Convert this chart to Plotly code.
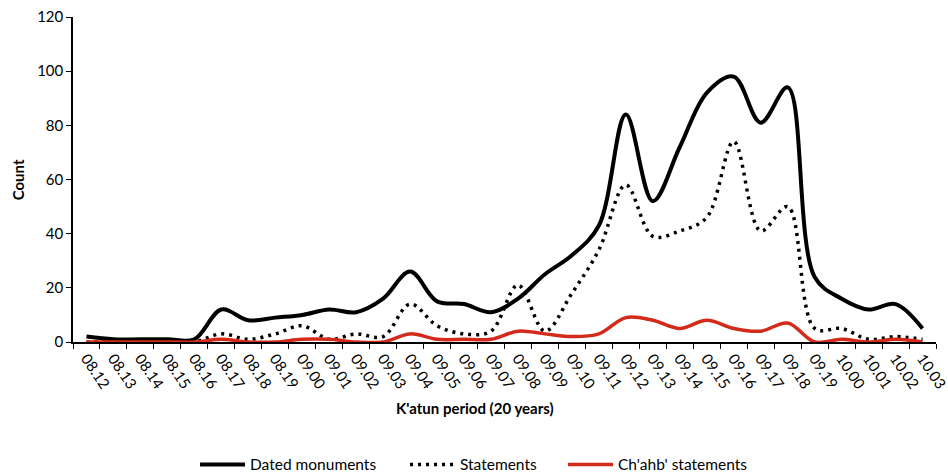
import plotly.graph_objects as go

periods = ["08.12", "08.13", "08.14", "08.15", "08.16", "08.17", "08.18", "08.19",
           "09.00", "09.01", "09.02", "09.03", "09.04", "09.05", "09.06", "09.07",
           "09.08", "09.09", "09.10", "09.11", "09.12", "09.13", "09.14", "09.15",
           "09.16", "09.17", "09.18", "09.19", "10.00", "10.01", "10.02", "10.03"]

dated_monuments = [2, 1, 1, 1, 1, 12, 8, 9, 10, 12, 11, 16, 26, 15, 14, 11,
                   16, 25, 32, 43, 84, 52, 72, 92, 98, 81, 94, 24, 16, 12, 14, 5]

statements = [0, 0, 0, 0, 0, 3, 1, 3, 6, 1, 3, 2, 14, 6, 3, 4,
              21, 4, 18, 34, 58, 39, 41, 46, 74, 41, 50, 5, 5, 1, 2, 1]

chahb_statements = [0, 0, 0, 0, 0, 1, 0, 0, 1, 1, 0, 0, 3, 1, 1, 1,
                    4, 3, 2, 3, 9, 8, 5, 8, 5, 4, 7, 0, 1, 0, 1, 0]

font_family = "Lato, 'Open Sans', sans-serif"

fig = go.Figure()
fig.add_trace(go.Scatter(x=periods, y=dated_monuments, name="Dated monuments", legend="legend",
                         mode="lines", line=dict(color="black", width=4, shape="spline", smoothing=1.0)))
fig.add_trace(go.Scatter(x=periods, y=statements, name="Statements", legend="legend2",
                         mode="lines", line=dict(color="black", width=3.5, dash="3px,5px", shape="spline", smoothing=1.0)))
fig.add_trace(go.Scatter(x=periods, y=chahb_statements, name="Ch'ahb' statements", legend="legend3",
                         mode="lines", line=dict(color="#d42a1a", width=3.5, shape="spline", smoothing=1.0)))

leg_common = dict(orientation="h", y=-0.378, yanchor="middle", xanchor="left",
                  font=dict(size=15.5), itemwidth=45, bgcolor="rgba(0,0,0,0)")

fig.update_layout(
    width=948, height=475,
    margin=dict(l=73, r=12, t=17, b=133, autoexpand=False),
    paper_bgcolor="white", plot_bgcolor="white",
    font=dict(family=font_family, size=15, color="black"),
    showlegend=True,
    legend=dict(x=0.1414, **leg_common),
    legend2=dict(x=0.3847, **leg_common),
    legend3=dict(x=0.5678, **leg_common),
    annotations=[
        dict(text="<b>K'atun period (20 years)</b>", xref="paper", yref="paper",
             x=0.466, y=-0.203, xanchor="center", yanchor="middle", showarrow=False,
             font=dict(size=15)),
        dict(text="<b>Count</b>", xref="paper", yref="paper", textangle=-90,
             x=-0.064, y=0.5, xanchor="center", yanchor="middle", showarrow=False,
             font=dict(size=15)),
    ],
)
fig.update_xaxes(type="category", range=[-0.5, len(periods) - 0.5], tickson="boundaries",
                 ticks="outside", ticklen=5, tickcolor="black", showline=True, linecolor="black",
                 linewidth=1.5, showgrid=False, tickangle=56, tickfont=dict(size=15),
                 automargin=False, ticklabeloverflow="allow")
fig.update_yaxes(range=[0, 120], dtick=20, ticks="outside", ticklen=5, tickcolor="black",
                 showline=True, linecolor="black", linewidth=1.5, showgrid=False,
                 zeroline=False, tickfont=dict(size=15), automargin=False,
                 ticklabeloverflow="allow")

# Remove the default page margin so the 948x475 figure fills the window exactly.
fig.write_html("out.html", config={"displayModeBar": False},
               post_script="document.body.style.margin='0';document.body.style.overflow='hidden';")
